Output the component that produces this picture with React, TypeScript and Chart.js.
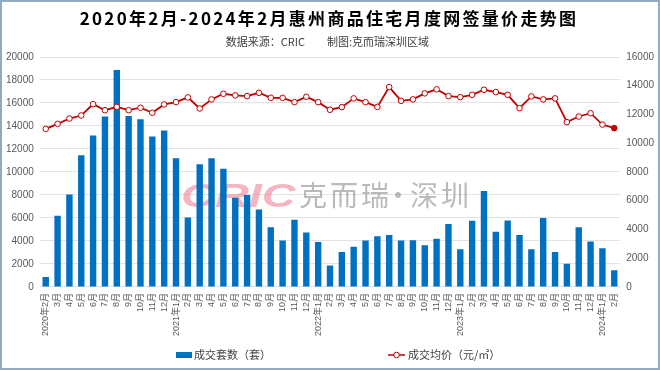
import React, { useEffect, useRef } from 'react';
import { Chart, registerables } from 'chart.js';

Chart.register(...registerables);

const TITLE = '2020年2月-2024年2月惠州商品住宅月度网签量价走势图';
const SOURCE_LEFT = '数据来源：CRIC';
const SOURCE_RIGHT = '制图:克而瑞深圳区域';
const BAR_LABEL = '成交套数（套）';
const LINE_LABEL = '成交均价（元/㎡）';

const categories = [
  '2020年2月', '3月', '4月', '5月', '6月', '7月', '8月', '9月', '10月', '11月', '12月',
  '2021年1月', '2月', '3月', '4月', '5月', '6月', '7月', '8月', '9月', '10月', '11月', '12月',
  '2022年1月', '2月', '3月', '4月', '5月', '6月', '7月', '8月', '9月', '10月', '11月', '12月',
  '2023年1月', '2月', '3月', '4月', '5月', '6月', '7月', '8月', '9月', '10月', '11月', '12月',
  '2024年1月', '2月',
];

const volumes = [
  870, 6190, 8050, 11450, 13170, 14830, 18870, 14860, 14590, 13080, 13600,
  11190, 6050, 10670, 11190, 10290, 7760, 7990, 6740, 5200, 4040, 5840, 4740,
  3920, 1860, 3050, 3490, 4040, 4420, 4510, 4040, 4070, 3630, 4190, 5470,
  3280, 5760, 8340, 4800, 5780, 4530, 3280, 5990, 3050, 2010, 5200, 3950,
  3370, 1450,
];

const prices = [
  11000, 11350, 11720, 11930, 12720, 12300, 12530, 12300, 12470, 12120, 12700,
  12860, 13190, 12420, 13050, 13440, 13330, 13280, 13510, 13160, 13160, 12860, 13230,
  12860, 12330, 12510, 13120, 12860, 12530, 13910, 12950, 13050, 13470, 13750, 13280,
  13210, 13370, 13720, 13560, 13370, 12440, 13260, 13050, 13120, 11470, 11860, 12090,
  11300, 11050,
];

const leftAxis = { min: 0, max: 20000, step: 2000 };
const rightAxis = { min: 0, max: 16000, step: 2000 };

const BAR_COLOR = '#0070C0';
const LINE_COLOR = '#C00000';
const TICK_COLOR = '#595959';
const GRID_COLOR = '#e3e3e3';
const FONT = "'Liberation Sans', 'Noto Sans CJK SC', sans-serif";
const CJK = "'Noto Sans CJK SC', sans-serif";

const decorPlugin = {
  id: 'decor',
  beforeDatasetsDraw(chart: any) {
    const ctx = chart.ctx as CanvasRenderingContext2D;
    ctx.save();
    ctx.save();
    ctx.translate(181, 207);
    ctx.scale(1.38, 1);
    ctx.font = "italic bold 34px 'Liberation Sans', sans-serif";
    ctx.fillStyle = 'rgba(236, 120, 140, 0.55)';
    ctx.textBaseline = 'alphabetic';
    ctx.textAlign = 'left';
    ctx.fillText('CRIC', 0, 0);
    ctx.restore();
    ctx.font = `28px ${CJK}`;
    (ctx as any).letterSpacing = '3px';
    ctx.fillStyle = 'rgba(140, 140, 140, 0.6)';
    ctx.textAlign = 'left';
    ctx.textBaseline = 'middle';
    ctx.fillText('克而瑞', 299, 195);
    ctx.fillText('深圳', 410, 195);
    (ctx as any).letterSpacing = '0px';
    ctx.textAlign = 'center';
    ctx.fillText('·', 398, 195);
    ctx.restore();
  },
  afterDraw(chart: any) {
    const ctx = chart.ctx as CanvasRenderingContext2D;
    const ds = chart.data.datasets;
    ctx.save();
    ctx.font = `bold 17px ${CJK}`;
    (ctx as any).letterSpacing = '2.3px';
    ctx.fillStyle = '#000000';
    ctx.textAlign = 'center';
    ctx.textBaseline = 'middle';
    ctx.fillText(TITLE, 329, 19);
    (ctx as any).letterSpacing = '0px';
    ctx.font = `11px ${CJK}`;
    ctx.fillStyle = '#404040';
    ctx.textAlign = 'right';
    ctx.fillText(SOURCE_LEFT, 305, 42);
    ctx.textAlign = 'left';
    ctx.fillText(SOURCE_RIGHT, 327, 42);

    const ly = 355;
    ctx.font = `11px ${CJK}`;
    ctx.fillStyle = ds[1].backgroundColor;
    ctx.fillRect(176, ly - 3, 16, 6);
    ctx.fillStyle = '#404040';
    ctx.textAlign = 'left';
    ctx.fillText(ds[1].label, 194, ly);

    ctx.strokeStyle = ds[0].borderColor;
    ctx.lineWidth = 1.5;
    ctx.beginPath();
    ctx.moveTo(388, ly);
    ctx.lineTo(405, ly);
    ctx.stroke();
    ctx.beginPath();
    ctx.arc(396.5, ly, 2.8, 0, Math.PI * 2);
    ctx.fillStyle = '#ffffff';
    ctx.fill();
    ctx.lineWidth = 1;
    ctx.stroke();
    ctx.fillStyle = '#404040';
    ctx.fillText(ds[0].label, 408, ly);

    ctx.strokeStyle = '#8eaac4';
    ctx.lineWidth = 2;
    ctx.strokeRect(1, 1, chart.width - 2, chart.height - 2);
    ctx.restore();
  },
};

const plain = (v: any) => String(v);

export default function App() {
  const ref = useRef<HTMLCanvasElement | null>(null);

  useEffect(() => {
    document.body.style.margin = '0';
    const canvas = ref.current;
    if (!canvas) return;
    const lastIndex = prices.length - 1;
    const chart = new Chart(canvas, {
      type: 'bar',
      data: {
        labels: categories,
        datasets: [
          {
            type: 'line',
            label: LINE_LABEL,
            data: prices,
            yAxisID: 'y1',
            borderColor: LINE_COLOR,
            borderWidth: 1.8,
            pointRadius: 2.8,
            pointBorderWidth: 1,
            pointBorderColor: LINE_COLOR,
            pointBackgroundColor: (c: any) => (c.dataIndex === lastIndex ? LINE_COLOR : '#ffffff'),
            tension: 0,
            order: 0,
          } as any,
          {
            type: 'bar',
            label: BAR_LABEL,
            data: volumes,
            yAxisID: 'y',
            backgroundColor: BAR_COLOR,
            categoryPercentage: 1,
            barPercentage: 0.54,
            order: 1,
          } as any,
        ],
      },
      options: {
        responsive: false,
        animation: false,
        layout: { padding: { top: 57, left: 0, right: 0, bottom: 28 } },
        plugins: {
          legend: { display: false },
          title: { display: false },
          tooltip: { enabled: false },
        },
        scales: {
          x: {
            grid: { display: false, drawTicks: false },
            border: { display: false },
            ticks: {
              autoSkip: false,
              minRotation: 90,
              maxRotation: 90,
              padding: 6,
              color: TICK_COLOR,
              font: { family: FONT, size: 9 },
            },
          },
          y: {
            position: 'left',
            min: leftAxis.min,
            max: leftAxis.max,
            grid: { color: GRID_COLOR, drawTicks: false },
            border: { display: false },
            ticks: {
              stepSize: leftAxis.step,
              padding: 6,
              color: TICK_COLOR,
              font: { family: FONT, size: 10 },
              callback: plain,
            },
          },
          y1: {
            position: 'right',
            min: rightAxis.min,
            max: rightAxis.max,
            grid: { display: false, drawTicks: false },
            border: { display: false },
            ticks: {
              stepSize: rightAxis.step,
              padding: 6,
              color: TICK_COLOR,
              font: { family: FONT, size: 10 },
              callback: plain,
            },
          },
        },
      },
      plugins: [decorPlugin],
    });
    return () => chart.destroy();
  }, []);

  return (
    <div style={{ position: 'fixed', left: 0, top: 0, width: 660, height: 370, background: '#ffffff' }}>
      <canvas ref={ref} width={660} height={370} />
    </div>
  );
}
